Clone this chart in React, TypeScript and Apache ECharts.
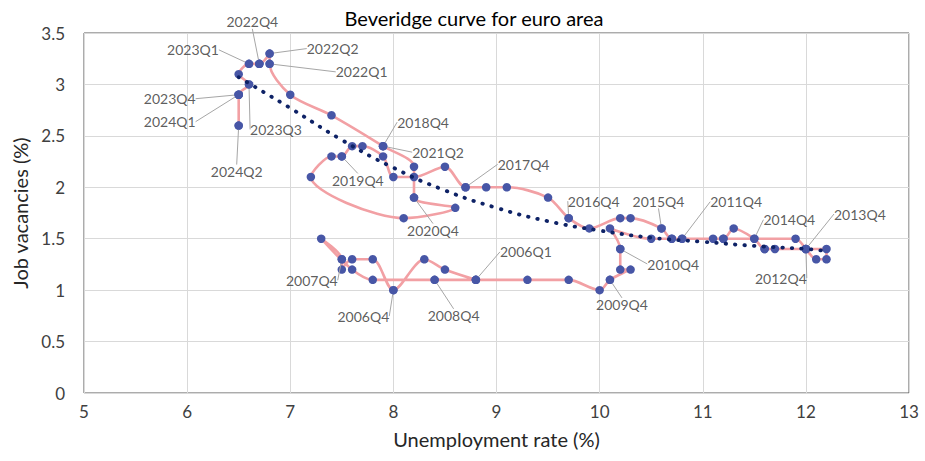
import React, { useEffect, useRef } from "react";
import * as echarts from "echarts";

const quarters = [
  "2006Q1", "2006Q2", "2006Q3", "2006Q4",
  "2007Q1", "2007Q2", "2007Q3", "2007Q4",
  "2008Q1", "2008Q2", "2008Q3", "2008Q4",
  "2009Q1", "2009Q2", "2009Q3", "2009Q4",
  "2010Q1", "2010Q2", "2010Q3", "2010Q4",
  "2011Q1", "2011Q2", "2011Q3", "2011Q4",
  "2012Q1", "2012Q2", "2012Q3", "2012Q4",
  "2013Q1", "2013Q2", "2013Q3", "2013Q4",
  "2014Q1", "2014Q2", "2014Q3", "2014Q4",
  "2015Q1", "2015Q2", "2015Q3", "2015Q4",
  "2016Q1", "2016Q2", "2016Q3", "2016Q4",
  "2017Q1", "2017Q2", "2017Q3", "2017Q4",
  "2018Q1", "2018Q2", "2018Q3", "2018Q4",
  "2019Q1", "2019Q2", "2019Q3", "2019Q4",
  "2020Q1", "2020Q2", "2020Q3", "2020Q4",
  "2021Q1", "2021Q2", "2021Q3", "2021Q4",
  "2022Q1", "2022Q2", "2022Q3", "2022Q4",
  "2023Q1", "2023Q2", "2023Q3", "2023Q4",
  "2024Q1", "2024Q2",
];

const unemployment = [
  8.8, 8.5, 8.3, 8.0,
  7.8, 7.6, 7.5, 7.5,
  7.3, 7.6, 7.8, 8.4,
  8.8, 9.3, 9.7, 10.0,
  10.1, 10.3, 10.2, 10.2,
  10.1, 10.5, 10.7, 10.8,
  11.1, 11.2, 11.9, 12.0,
  12.1, 12.2, 12.2, 12.0,
  11.7, 11.6, 11.6, 11.5,
  11.3, 11.2, 10.7, 10.6,
  10.3, 10.2, 9.9, 9.7,
  9.5, 9.1, 8.9, 8.7,
  8.5, 8.2, 8.0, 7.9,
  7.7, 7.6, 7.5, 7.4,
  7.2, 8.1, 8.6, 8.2,
  8.2, 7.9, 7.4, 7.0,
  6.8, 6.8, 6.7, 6.7,
  6.6, 6.5, 6.6, 6.5,
  6.5, 6.5,
];

const vacancies = [
  1.1, 1.2, 1.3, 1.0,
  1.3, 1.3, 1.2, 1.3,
  1.5, 1.2, 1.1, 1.1,
  1.1, 1.1, 1.1, 1.0,
  1.1, 1.2, 1.2, 1.4,
  1.6, 1.5, 1.5, 1.5,
  1.5, 1.5, 1.5, 1.4,
  1.3, 1.3, 1.4, 1.4,
  1.4, 1.4, 1.4, 1.5,
  1.6, 1.5, 1.5, 1.6,
  1.7, 1.7, 1.6, 1.7,
  1.9, 2.0, 2.0, 2.0,
  2.2, 2.1, 2.1, 2.3,
  2.4, 2.4, 2.3, 2.3,
  2.1, 1.7, 1.8, 1.9,
  2.2, 2.4, 2.7, 2.9,
  3.2, 3.3, 3.2, 3.2,
  3.2, 3.1, 3.0, 2.9,
  2.9, 2.6,
];

// Trend line (dotted)
const trendX = [6.5, 7.0, 7.5, 8.0, 8.5, 9.0, 9.5, 10.0, 10.5, 11.0, 11.5, 12.0, 12.2];
const trendY = [3.07, 2.77, 2.46, 2.19, 1.97, 1.80, 1.67, 1.58, 1.51, 1.47, 1.43, 1.40, 1.38];

// Labelled points
const labelNames = [
  "2022Q4", "2023Q1", "2022Q2", "2022Q1", "2023Q4", "2024Q1", "2023Q3", "2024Q2",
  "2018Q4", "2021Q2", "2019Q4", "2020Q4", "2017Q4", "2016Q4", "2015Q4", "2011Q4",
  "2014Q4", "2013Q4", "2012Q4", "2010Q4", "2009Q4", "2006Q1", "2008Q4", "2006Q4", "2007Q4",
];
const labelX = [
  6.7, 6.6, 6.8, 6.8, 6.5, 6.5, 6.6, 6.5,
  7.9, 7.9, 7.5, 8.2, 8.7, 9.7, 10.6, 10.8,
  11.5, 12.0, 12.0, 10.2, 10.1, 8.8, 8.4, 8.0, 7.5,
];
const labelY = [
  3.2, 3.2, 3.3, 3.2, 2.9, 2.9, 3.0, 2.6,
  2.4, 2.4, 2.3, 1.9, 2.0, 1.7, 1.6, 1.5,
  1.5, 1.4, 1.4, 1.4, 1.1, 1.1, 1.1, 1.0, 1.3,
];
// label offsets in pixels (label centre relative to point)
const labelOffsets: [number, number][] = [
  [-7, -42], [-56, -14], [63, -5], [92, 8], [-69, 4], [-69, 27], [27, 45], [-2, 46],
  [40, -24], [55, 6], [16, 24], [19, 33], [58, -23], [25, -17], [-3, -27], [54, -37],
  [35, -19], [54, -35], [-25, 29], [53, 15], [12, 25], [50, -28], [19, 36], [-30, 26], [-30, 21],
];

const FONT = "Lato, 'Open Sans', 'Noto Sans', sans-serif";

export default function App() {
  const ref = useRef<HTMLDivElement>(null);

  useEffect(() => {
    if (!ref.current) return;
    const chart = echarts.init(ref.current, undefined, { renderer: "svg" });

    const mainData = unemployment.map((u, i) => ({ name: quarters[i], value: [u, vacancies[i]] }));
    const trendData = trendX.map((x, i) => [x, trendY[i]]);
    const labelData = labelNames.map((n, i) => ({ name: n, value: [labelX[i], labelY[i]] }));

    chart.setOption({
      animation: false,
      backgroundColor: "#ffffff",
      textStyle: { fontFamily: FONT },
      title: {
        text: "Beveridge curve for euro area",
        left: 469,
        textAlign: "center",
        top: 3,
        textStyle: { fontFamily: FONT, fontSize: 20, fontWeight: "normal", color: "#000000" },
      },
      grid: {
        left: 84,
        right: 16,
        top: 33,
        bottom: 68,
        show: true,
        borderColor: "#595959",
        borderWidth: 1,
        backgroundColor: "transparent",
      },
      xAxis: {
        type: "value",
        min: 5,
        max: 13,
        interval: 1,
        name: "Unemployment rate (%)",
        nameLocation: "middle",
        nameGap: 36,
        nameTextStyle: { fontFamily: FONT, fontSize: 20, color: "#262626" },
        axisLine: { show: false },
        axisTick: { show: false },
        axisLabel: { fontFamily: FONT, fontSize: 17, color: "#404040", margin: 10 },
        splitLine: { show: true, lineStyle: { color: "#D9D9D9", width: 1 } },
      },
      yAxis: {
        type: "value",
        min: 0,
        max: 3.5,
        interval: 0.5,
        name: "Job vacancies (%)",
        nameLocation: "middle",
        nameGap: 50,
        nameRotate: 90,
        nameTextStyle: { fontFamily: FONT, fontSize: 20, color: "#262626" },
        axisLine: { show: false },
        axisTick: { show: false },
        axisLabel: { fontFamily: FONT, fontSize: 17, color: "#404040", margin: 19 },
        splitLine: { show: true, lineStyle: { color: "#D9D9D9", width: 1 } },
      },
      series: [
        {
          type: "line",
          data: mainData,
          smooth: 0.3,
          symbol: "circle",
          symbolSize: 8.5,
          showSymbol: true,
          itemStyle: { color: "#4756A6" },
          lineStyle: { color: "#F2A0A4", width: 2.6 },
          z: 2,
        },
        {
          type: "scatter",
          data: labelData,
          symbol: "circle",
          symbolSize: 8.5,
          itemStyle: { color: "#4756A6" },
          label: {
            show: true,
            position: "inside",
            formatter: "{b}",
            fontFamily: FONT,
            fontSize: 14,
            color: "#333333",
          },
          labelLayout: (params: any) => {
            const o = labelOffsets[params.dataIndex] || [0, 0];
            return { dx: o[0], dy: o[1] };
          },
          labelLine: { show: true, lineStyle: { color: "#A6A6A6", width: 1 } },
          z: 3,
        },
        {
          type: "line",
          data: trendData,
          smooth: true,
          symbol: "none",
          lineStyle: { color: "#0E2266", width: 3.8, type: [0.5, 9], cap: "round" },
          z: 4,
        },
      ],
    });

    return () => chart.dispose();
  }, []);

  return (
    <div
      ref={ref}
      style={{ position: "fixed", left: 0, top: 0, width: 925, height: 461, background: "#fff" }}
    />
  );
}
